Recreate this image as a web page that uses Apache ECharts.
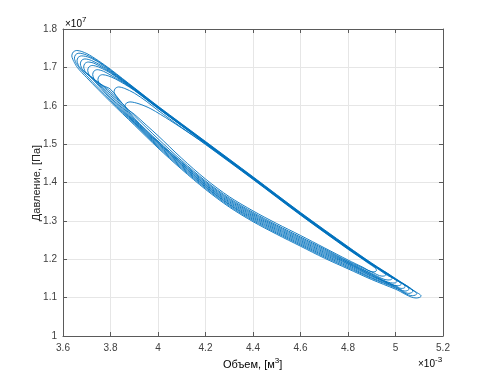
<!DOCTYPE html>
<html><head><meta charset="utf-8">
<script src="https://cdn.jsdelivr.net/npm/echarts@6/dist/echarts.min.js"></script>
<style>html,body{margin:0;padding:0;background:#fff}#c{width:490px;height:379px}</style>
</head><body><div id="c"></div>
<script>
// Volume in 1e-3 m^3, pressure in 1e7 Pa
const xTicks = [3.6, 3.8, 4.0, 4.2, 4.4, 4.6, 4.8, 5.0, 5.2];
const yTicks = [1.0, 1.1, 1.2, 1.3, 1.4, 1.5, 1.6, 1.7, 1.8];
const xTitle = '{a|Объем, [м}{s|3}{a|]}';
const yTitle = 'Давление, [Па]';
const xScale = '{a|×10}{s|-3}';
const yScale = '{a|×10}{s|7}';

const loop1 = [[3.645,1.716],[3.637,1.730],[3.643,1.740],[3.658,1.744],[3.70,1.736],[3.75,1.717],[3.80,1.695],[3.90,1.647],[4.00,1.599],[4.20,1.507],[4.40,1.415],[4.60,1.322],[4.80,1.233],[4.90,1.190],[5.00,1.150],[5.08,1.117],[5.108,1.104],[5.101,1.1005],[5.087,1.099],[5.00,1.122],[4.90,1.147],[4.80,1.175],[4.70,1.203],[4.60,1.234],[4.50,1.265],[4.40,1.298],[4.30,1.336],[4.20,1.382],[4.10,1.434],[4.00,1.490],[3.90,1.550],[3.80,1.610],[3.70,1.673],[3.66,1.700],[3.645,1.716]];
const loop2 = [[3.656,1.710],[3.648,1.724],[3.653,1.733],[3.667,1.737],[3.70,1.732],[3.75,1.715],[3.80,1.693],[3.90,1.646],[4.00,1.598],[4.20,1.506],[4.40,1.414],[4.60,1.321],[4.80,1.232],[4.90,1.189],[5.00,1.149],[5.06,1.124],[5.090,1.110],[5.083,1.1065],[5.071,1.105],[5.00,1.125],[4.90,1.150],[4.80,1.178],[4.70,1.206],[4.60,1.237],[4.50,1.268],[4.40,1.301],[4.30,1.339],[4.20,1.385],[4.10,1.437],[4.00,1.493],[3.90,1.553],[3.80,1.614],[3.70,1.678],[3.67,1.698],[3.656,1.710]];
const loop3 = [[3.667,1.703],[3.659,1.717],[3.664,1.726],[3.678,1.730],[3.71,1.726],[3.75,1.713],[3.80,1.691],[3.90,1.645],[4.00,1.597],[4.20,1.505],[4.40,1.413],[4.60,1.320],[4.80,1.231],[4.90,1.188],[5.00,1.148],[5.073,1.116],[5.066,1.1125],[5.056,1.111],[5.00,1.127],[4.90,1.152],[4.80,1.181],[4.70,1.209],[4.60,1.240],[4.50,1.271],[4.40,1.304],[4.30,1.342],[4.20,1.388],[4.10,1.440],[4.00,1.496],[3.90,1.555],[3.80,1.618],[3.72,1.672],[3.68,1.694],[3.667,1.703]];
const loop4 = [[3.681,1.695],[3.673,1.709],[3.678,1.718],[3.692,1.722],[3.72,1.718],[3.76,1.705],[3.80,1.689],[3.90,1.644],[4.00,1.596],[4.20,1.504],[4.40,1.412],[4.60,1.319],[4.80,1.230],[4.90,1.187],[5.00,1.147],[5.057,1.122],[5.050,1.1185],[5.040,1.117],[5.00,1.129],[4.90,1.155],[4.80,1.184],[4.70,1.212],[4.60,1.243],[4.50,1.274],[4.40,1.307],[4.30,1.344],[4.20,1.390],[4.10,1.443],[4.00,1.499],[3.90,1.557],[3.80,1.622],[3.73,1.668],[3.695,1.687],[3.681,1.695]];
const loop5 = [[3.695,1.687],[3.687,1.701],[3.692,1.710],[3.706,1.714],[3.73,1.711],[3.77,1.698],[3.80,1.687],[3.90,1.643],[4.00,1.595],[4.20,1.504],[4.40,1.412],[4.60,1.319],[4.80,1.230],[4.90,1.187],[5.00,1.147],[5.041,1.128],[5.034,1.1245],[5.024,1.124],[5.00,1.131],[4.90,1.157],[4.80,1.187],[4.70,1.215],[4.60,1.246],[4.50,1.277],[4.40,1.310],[4.30,1.347],[4.20,1.393],[4.10,1.446],[4.00,1.502],[3.90,1.559],[3.80,1.627],[3.74,1.664],[3.71,1.680],[3.695,1.687]];
const loop6 = [[3.712,1.678],[3.704,1.692],[3.709,1.701],[3.723,1.705],[3.75,1.701],[3.78,1.692],[3.80,1.685],[3.90,1.642],[4.00,1.594],[4.20,1.503],[4.40,1.411],[4.60,1.318],[4.80,1.229],[4.90,1.186],[4.98,1.155],[5.024,1.135],[5.017,1.1315],[5.007,1.131],[4.90,1.159],[4.80,1.189],[4.70,1.218],[4.60,1.249],[4.50,1.280],[4.40,1.313],[4.30,1.350],[4.20,1.395],[4.10,1.448],[4.00,1.504],[3.90,1.562],[3.80,1.632],[3.75,1.660],[3.725,1.672],[3.712,1.678]];
const loop7 = [[3.733,1.667],[3.725,1.681],[3.730,1.690],[3.744,1.694],[3.77,1.690],[3.80,1.680],[3.85,1.662],[3.90,1.641],[4.00,1.594],[4.20,1.502],[4.40,1.410],[4.60,1.317],[4.80,1.228],[4.90,1.186],[4.96,1.160],[5.006,1.142],[4.999,1.1385],[4.989,1.138],[4.90,1.161],[4.80,1.191],[4.70,1.221],[4.60,1.252],[4.50,1.283],[4.40,1.316],[4.30,1.353],[4.20,1.398],[4.10,1.451],[4.00,1.506],[3.90,1.565],[3.80,1.637],[3.76,1.656],[3.745,1.662],[3.733,1.667]];
const loop8 = [[3.753,1.658],[3.747,1.668],[3.752,1.677],[3.766,1.681],[3.79,1.678],[3.82,1.670],[3.86,1.656],[3.90,1.640],[4.00,1.593],[4.20,1.502],[4.40,1.410],[4.60,1.317],[4.80,1.228],[4.90,1.186],[4.986,1.150],[4.979,1.1465],[4.968,1.146],[4.90,1.163],[4.80,1.193],[4.70,1.224],[4.60,1.255],[4.50,1.286],[4.40,1.319],[4.30,1.356],[4.20,1.401],[4.10,1.453],[4.00,1.508],[3.90,1.568],[3.80,1.643],[3.77,1.652],[3.753,1.658]];
const loop9 = [[3.822,1.626],[3.815,1.637],[3.820,1.645],[3.834,1.649],[3.86,1.645],[3.90,1.633],[3.95,1.612],[4.00,1.588],[4.10,1.543],[4.20,1.500],[4.40,1.409],[4.60,1.316],[4.80,1.227],[4.90,1.185],[4.960,1.160],[4.953,1.1565],[4.943,1.156],[4.90,1.167],[4.80,1.195],[4.70,1.227],[4.60,1.258],[4.50,1.289],[4.40,1.322],[4.30,1.359],[4.20,1.404],[4.10,1.457],[4.00,1.514],[3.90,1.574],[3.85,1.606],[3.832,1.617],[3.822,1.626]];
const loop10 = [[3.866,1.593],[3.861,1.600],[3.867,1.607],[3.882,1.610],[3.92,1.605],[3.97,1.592],[4.05,1.562],[4.15,1.521],[4.20,1.499],[4.40,1.408],[4.60,1.315],[4.80,1.226],[4.88,1.192],[4.920,1.171],[4.914,1.1675],[4.905,1.167],[4.86,1.180],[4.80,1.198],[4.70,1.230],[4.60,1.262],[4.50,1.293],[4.40,1.326],[4.30,1.363],[4.20,1.409],[4.10,1.463],[4.00,1.522],[3.95,1.550],[3.90,1.578],[3.875,1.589],[3.866,1.593]];

const loops = [loop1, loop2, loop3, loop4, loop5, loop6, loop7, loop8, loop9, loop10];

const axisColor = '#5a5a5a';
const gridColor = '#e6e6e6';
const fmt = v => String(parseFloat(Number(v).toFixed(2)));
const richA = (size) => ({fontSize: size, lineHeight: 16, fontFamily: 'Liberation Sans', color: '#262626'});
const richS = (size) => ({fontSize: size, lineHeight: 7, verticalAlign: 'top', fontFamily: 'Liberation Sans', color: '#262626'});

const chart = echarts.init(document.getElementById('c'), null, {renderer: 'canvas'});
const baseX = {
  type: 'value', min: xTicks[0], max: xTicks[xTicks.length - 1], interval: 0.2,
  axisLine: {show: true, onZero: false, lineStyle: {color: axisColor, width: 1}},
  axisTick: {show: true, inside: true, length: 4, lineStyle: {color: axisColor}},
};
const baseY = {
  type: 'value', min: yTicks[0], max: yTicks[yTicks.length - 1], interval: 0.1,
  axisLine: {show: true, onZero: false, lineStyle: {color: axisColor, width: 1}},
  axisTick: {show: true, inside: true, length: 4, lineStyle: {color: axisColor}},
};
chart.setOption({
  animation: false,
  grid: {left: 63, right: 47, top: 29, bottom: 43, containLabel: false},
  xAxis: [
    Object.assign({}, baseX, {position: 'bottom',
      axisLabel: {color: '#404040', fontSize: 10, fontFamily: 'Liberation Sans', margin: 7, formatter: fmt},
      splitLine: {show: true, lineStyle: {color: gridColor, width: 1}}}),
    Object.assign({}, baseX, {position: 'top', axisLabel: {show: false}, splitLine: {show: false}})
  ],
  yAxis: [
    Object.assign({}, baseY, {position: 'left',
      axisLabel: {color: '#404040', fontSize: 10, fontFamily: 'Liberation Sans', margin: 6, formatter: fmt},
      splitLine: {show: true, lineStyle: {color: gridColor, width: 1}}}),
    Object.assign({}, baseY, {position: 'right', axisLabel: {show: false}, splitLine: {show: false}})
  ],
  series: loops.map(d => ({
    type: 'line', data: d, xAxisIndex: 0, yAxisIndex: 0,
    showSymbol: false, smooth: 0.3, clip: true,
    lineStyle: {color: '#0072BD', width: 0.9}
  })),
  graphic: [
    {type: 'text', left: 223, top: 357, style: {text: xTitle, rich: {a: richA(11), s: richS(8)}}},
    {type: 'text', x: 37, y: 183, rotation: Math.PI / 2, style: {text: yTitle, font: '11px "Liberation Sans"', fill: '#262626', textAlign: 'center', textVerticalAlign: 'middle'}},
    {type: 'text', left: 65, top: 16, style: {text: yScale, rich: {a: Object.assign(richA(10), {color: '#404040'}), s: Object.assign(richS(8), {color: '#404040'})}}},
    {type: 'text', left: 418, top: 356, style: {text: xScale, rich: {a: Object.assign(richA(10), {color: '#404040'}), s: Object.assign(richS(8), {color: '#404040'})}}}
  ]
});
</script>
</body></html>
